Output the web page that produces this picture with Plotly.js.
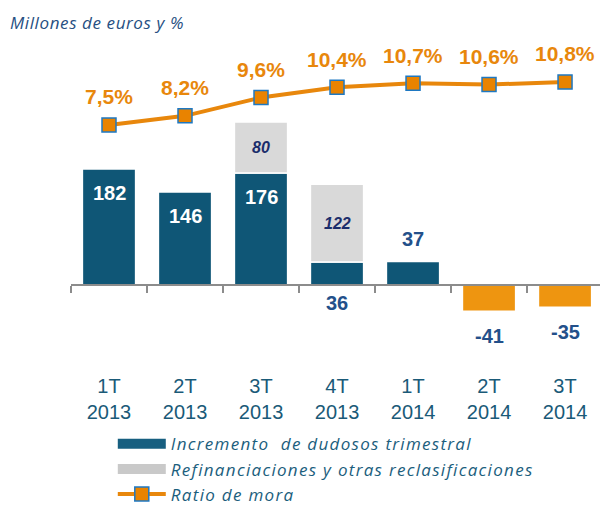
<!DOCTYPE html>
<html>
<head>
<meta charset="utf-8">
<script src="https://cdn.plot.ly/plotly-3.0.1.min.js"></script>
<style>html,body{margin:0;padding:0;background:#fff;}#chart{width:600px;height:506px;}
.legendtext{letter-spacing:1.3px;}
.gtitle{letter-spacing:0.6px;}
#chart .legend .scrollbox{clip-path:none !important;}
#chart .legend .scrollbar{display:none;}</style>
</head>
<body>
<div id="chart"></div>
<script>
const categories = ['1T<br>2013', '2T<br>2013', '3T<br>2013', '4T<br>2013', '1T<br>2014', '2T<br>2014', '3T<br>2014'];
const dudosos = [182, 146, 176, 36, 37, -41, -35];
const refinanciaciones = [null, null, 80, 122, null, null, null];
const ratioMora = [7.5, 8.2, 9.6, 10.4, 10.7, 10.6, 10.8];
const seriesNames = ['Incremento  de dudosos trimestral', 'Refinanciaciones y otras reclasificaciones', 'Ratio de mora'];

const TEAL = '#0f5676', ORANGE = '#ee9510', GREY = '#d9d9d9', NAVY = '#23508a', LINEOR = '#e8870c';
const yRange = [-117.7, 384.6];
const y2Range = [-10.54, 14.02];
const zeroPos = -yRange[0] / (yRange[1] - yRange[0]);

const traces = [
  {
    type: 'bar', x: categories, y: dudosos, name: seriesNames[0], showlegend: false,
    marker: { color: dudosos.map(v => v < 0 ? ORANGE : TEAL), line: { color: '#ffffff', width: 1.5 } },
    width: 0.7, hoverinfo: 'skip'
  },
  {
    type: 'bar', x: categories, y: refinanciaciones, name: seriesNames[1], showlegend: false,
    marker: { color: GREY, line: { color: '#ffffff', width: 1.5 } },
    width: 0.7, hoverinfo: 'skip'
  },
  // legend-only proxies (wide rectangle keys like the reference)
  { type: 'scatter', mode: 'lines', x: [null], y: [null], name: seriesNames[0], line: { color: '#175f80', width: 11 }, hoverinfo: 'skip' },
  { type: 'scatter', mode: 'lines', x: [null], y: [null], name: seriesNames[1], line: { color: '#c9c9c9', width: 11 }, hoverinfo: 'skip' },
  {
    type: 'scatter', mode: 'lines+markers', x: categories, y: ratioMora, yaxis: 'y2', name: seriesNames[2],
    line: { color: LINEOR, width: 4 },
    marker: { symbol: 'square', size: 14, color: '#e98300', line: { color: '#1e78c2', width: 1.5 } },
    hoverinfo: 'skip'
  }
];

const annotations = [];
dudosos.forEach((v, i) => {
  let y = v, yshift, color = NAVY;
  if (v < 0) { yshift = -25; }
  else if (refinanciaciones[i] && v < 60) { y = 0; yshift = -18; }
  else if (v < 60) { yshift = 22; }
  else { yshift = -24; color = '#ffffff'; }
  annotations.push({ x: categories[i], y: y, yref: 'y', xref: 'x', yshift: yshift, text: '<b>' + v + '</b>', showarrow: false,
    font: { family: 'Liberation Sans, Arial', size: 20, color: color } });
});
refinanciaciones.forEach((v, i) => {
  if (!v) return;
  annotations.push({ x: categories[i], y: dudosos[i] + v / 2, yref: 'y', xref: 'x', text: '<b><i>' + v + '</i></b>', showarrow: false,
    font: { family: 'Liberation Sans, Arial', size: 16, color: '#1b2d6b' } });
});
ratioMora.forEach((v, i) => {
  annotations.push({ x: categories[i], y: v, yref: 'y2', xref: 'x', yshift: 28, text: '<b>' + v.toFixed(1).replace('.', ',') + '%</b>', showarrow: false,
    font: { family: 'Liberation Sans, Arial', size: 21, color: LINEOR } });
});

const layout = {
  width: 600, height: 506,
  margin: { l: 71, r: 0, t: 40, b: 146, autoexpand: false },
  paper_bgcolor: '#ffffff', plot_bgcolor: '#ffffff',
  font: { family: 'Liberation Sans, Arial', color: '#1a5a78' },
  title: { text: 'Millones de euros y %', x: 10 / 600, xref: 'container', xanchor: 'left', y: 0.955, yref: 'container', yanchor: 'middle',
    font: { family: 'Open Sans', size: 17, color: '#264f82', style: 'italic' } },
  barmode: 'relative',
  showlegend: true,
  legend: { x: 0.079, xanchor: 'left', y: -0.207, yanchor: 'top', yref: 'paper', tracegroupgap: 0, traceorder: 'normal', itemwidth: 48,
    font: { family: 'Open Sans', size: 17, color: '#1b5e7d', style: 'italic' }, bgcolor: 'rgba(0,0,0,0)' },
  xaxis: {
    type: 'category', range: [-0.5, 6.46], anchor: 'free', position: zeroPos,
    showline: true, linecolor: '#8c8c8c', linewidth: 2,
    ticks: 'outside', tickson: 'boundaries', ticklen: 7, tickwidth: 2, tickcolor: '#8c8c8c',
    showgrid: false, zeroline: false, ticklabelstandoff: 83,
    tickfont: { family: 'Liberation Sans, Arial', size: 20, color: '#1a5a78' }
  },
  yaxis: { range: yRange, visible: false, showgrid: false, zeroline: false, fixedrange: true },
  yaxis2: { range: y2Range, overlaying: 'y', side: 'right', visible: false, showgrid: false, zeroline: false },
  annotations: annotations
};

Plotly.newPlot('chart', traces, layout, { displayModeBar: false, staticPlot: true });
</script>
</body>
</html>
